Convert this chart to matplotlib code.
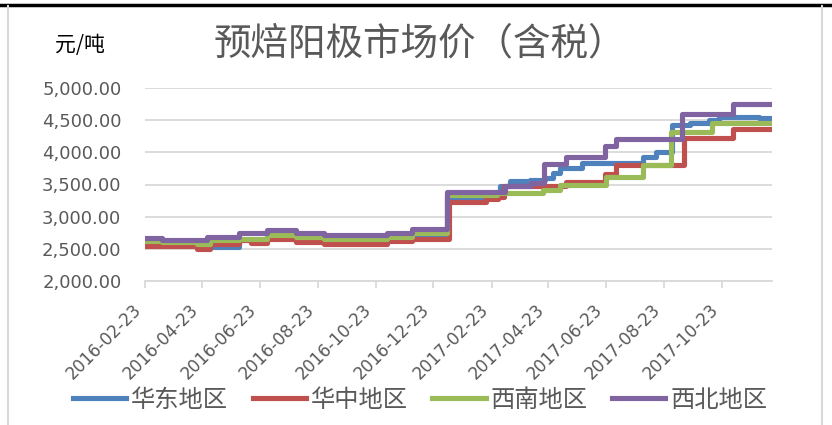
import numpy as np
import pandas as pd
import matplotlib
matplotlib.use("Agg")
import matplotlib.pyplot as plt
import matplotlib.dates as mdates
from matplotlib.lines import Line2D
from matplotlib.ticker import FuncFormatter

plt.rcParams['font.family'] = ['Noto Sans CJK SC', 'DejaVu Sans']

end_date = '2017-12-15'

# 华东地区
east_dates = ['2016-02-23', '2016-03-12', '2016-04-28', '2016-06-01', '2016-07-01',
              '2016-07-31', '2016-08-30', '2016-11-04', '2016-12-01', '2017-01-06',
              '2017-02-19', '2017-03-03', '2017-03-14', '2017-04-04', '2017-04-20',
              '2017-04-28', '2017-05-06', '2017-05-29', '2017-08-01', '2017-08-15',
              '2017-09-01', '2017-09-20', '2017-10-10', '2017-10-20', '2017-12-01']
east_vals = [2600, 2580, 2530, 2640, 2680,
             2660, 2630, 2670, 2700, 3300,
             3320, 3480, 3550, 3570, 3600,
             3680, 3750, 3840, 3930, 4000,
             4420, 4450, 4500, 4550, 4530]

# 华中地区
central_dates = ['2016-02-23', '2016-04-18', '2016-05-01', '2016-06-01', '2016-06-14',
                 '2016-07-01', '2016-07-31', '2016-08-30', '2016-11-04', '2016-12-01',
                 '2017-01-08', '2017-02-17', '2017-03-01', '2017-03-07', '2017-05-12',
                 '2017-06-22', '2017-07-04', '2017-09-13', '2017-11-04']
central_vals = [2540, 2505, 2570, 2640, 2590,
                2660, 2600, 2570, 2620, 2650,
                3230, 3270, 3300, 3480, 3540,
                3660, 3800, 4230, 4360]

# 西南地区
southwest_dates = ['2016-02-23', '2016-03-12', '2016-04-18', '2016-05-01', '2016-06-01',
                   '2016-07-01', '2016-07-31', '2016-08-30', '2016-11-04', '2016-12-01',
                   '2017-01-06', '2017-02-28', '2017-04-18', '2017-05-05', '2017-06-23',
                   '2017-08-01', '2017-08-31', '2017-10-13']
southwest_vals = [2620, 2600, 2580, 2640, 2660,
                  2720, 2690, 2650, 2690, 2750,
                  3340, 3370, 3410, 3500, 3610,
                  3810, 4310, 4460]

# 西北地区
northwest_dates = ['2016-02-23', '2016-03-12', '2016-04-28', '2016-06-01', '2016-07-01',
                   '2016-07-31', '2016-08-30', '2016-11-04', '2016-12-01', '2017-01-06',
                   '2017-03-09', '2017-04-05', '2017-04-19', '2017-05-12', '2017-06-22',
                   '2017-07-04', '2017-09-11', '2017-11-04']
northwest_vals = [2670, 2630, 2690, 2740, 2790,
                  2740, 2710, 2740, 2810, 3380,
                  3480, 3530, 3820, 3920, 4100,
                  4200, 4600, 4750]

names = ['华东地区', '华中地区', '西南地区', '西北地区']
colors = ['#4F81BD', '#C0504D', '#9BBB59', '#8064A2']
tick_dates = ['2016-02-23', '2016-04-23', '2016-06-23', '2016-08-23', '2016-10-23',
              '2016-12-23', '2017-02-23', '2017-04-23', '2017-06-23', '2017-08-23',
              '2017-10-23']

series = [(east_dates, east_vals), (central_dates, central_vals),
          (southwest_dates, southwest_vals), (northwest_dates, northwest_vals)]

W, H = 832, 425
fig = plt.figure(figsize=(W / 100, H / 100), dpi=100)
ax = fig.add_axes([145 / W, 1 - 281 / H, (772 - 145) / W, (281 - 88) / H])

for (d, v), name, c in zip(series, names, colors):
    x = pd.to_datetime(d + [end_date])
    y = v + [v[-1]]
    ax.plot(x, y, drawstyle='steps-post', color=c, lw=3.7, label=name,
            solid_joinstyle='round')

ax.set_xlim(pd.Timestamp('2016-02-23'), pd.Timestamp(end_date))
ax.set_ylim(2000, 5000)
ax.set_yticks(np.arange(2000, 5001, 500))
ax.yaxis.set_major_formatter(FuncFormatter(lambda v, p: '{:,.2f}'.format(v)))
ax.set_xticks(pd.to_datetime(tick_dates))
ax.xaxis.set_major_formatter(mdates.DateFormatter('%Y-%m-%d'))

ax.grid(axis='y', color='#D9D9D9', lw=1.3)
ax.set_axisbelow(True)
for s in ['top', 'right', 'left']:
    ax.spines[s].set_visible(False)
ax.spines['bottom'].set_color('#D9D9D9')
ax.spines['bottom'].set_linewidth(1.3)
ax.tick_params(axis='y', length=0, pad=17, labelsize=13, labelcolor='#595959')
ax.tick_params(axis='x', length=5, width=1.3, color='#D9D9D9', pad=9,
               labelsize=12.2, labelcolor='#595959')
for lab in ax.get_yticklabels() + ax.get_xticklabels():
    lab.set_family('DejaVu Sans')
for lab in ax.get_xticklabels():
    lab.set_rotation(45)
    lab.set_ha('right')

fig.text(420 / W, 1 - 44 / H, '预焙阳极市场价（含税）', ha='center', va='center',
         fontsize=27, color='#595959')
fig.text(55 / W, 1 - 45 / H, '元/吨', ha='left', va='center', fontsize=15, color='black')

fig.legend(loc='center', bbox_to_anchor=(420 / W, 1 - 400 / H), ncol=4, frameon=False,
           fontsize=17.5, handlelength=2.2, handletextpad=0.2, columnspacing=1.0,
           labelcolor='#595959')

# frame lines
fig.add_artist(Line2D([0, 1], [1 - 5 / H, 1 - 5 / H], transform=fig.transFigure,
                      color='black', lw=2.5))
fig.add_artist(Line2D([8 / W, 8 / W], [0, 1 - 6 / H], transform=fig.transFigure,
                      color='#D9D9D9', lw=1.5))
fig.add_artist(Line2D([822 / W, 822 / W], [0, 1 - 6 / H], transform=fig.transFigure,
                      color='#D9D9D9', lw=1.5))

fig.savefig('out.png', dpi=100)
